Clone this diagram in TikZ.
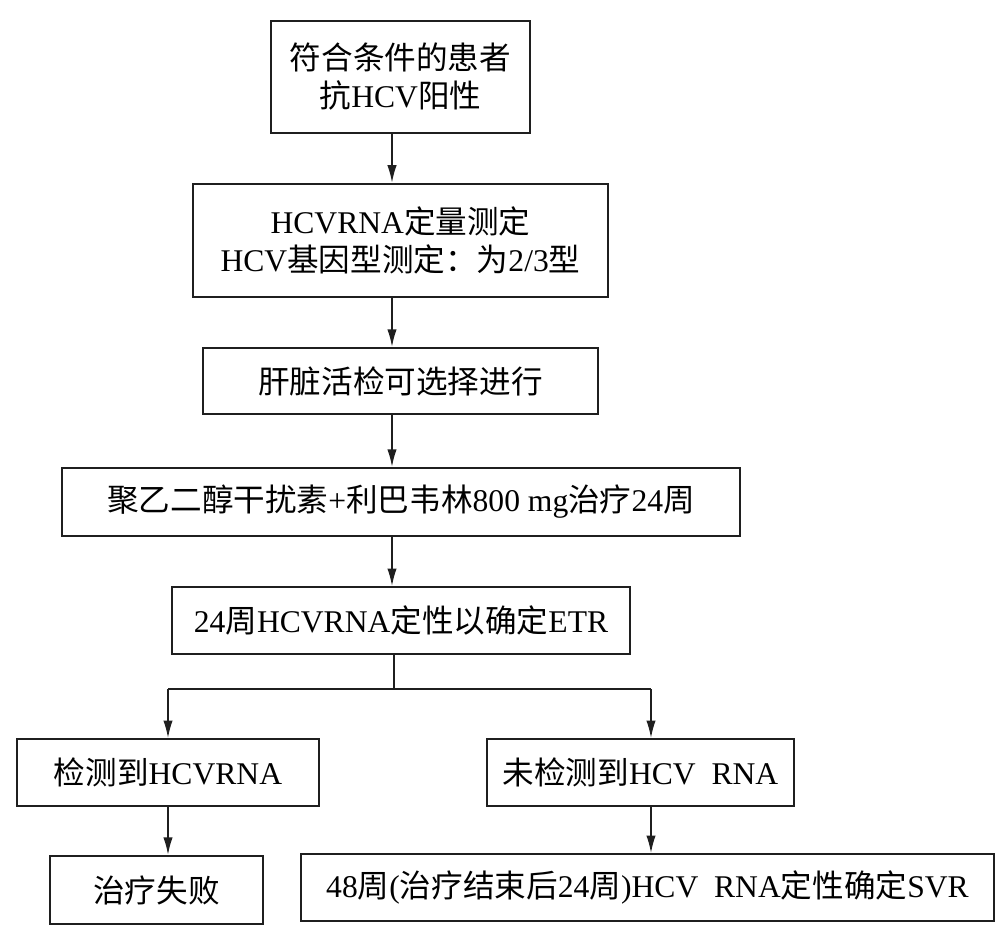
\documentclass[tikz,border=0pt]{standalone}
\usepackage{fontspec}
\setmainfont{Liberation Serif}
\newfontfamily\cjk{Noto Sans CJK SC}
\usetikzlibrary{arrows.meta}
\newcommand{\zh}[1]{{\cjk #1}}
\begin{document}
\begin{tikzpicture}[x=0.75pt,y=-0.75pt,
  box/.style={draw=black!88, line width=1.9pt, inner sep=0pt, align=center,
    font=\fontsize{23.7}{28.5}\selectfont},
  conn/.style={draw=black!88, line width=1pt},
  arr/.style={conn, -{Latex[length=13pt,width=7pt]}}]
\useasboundingbox (0,0) rectangle (1001,942);
\node[box, minimum width=194pt, minimum height=84pt] (b1) at (400.5,77)
  {\zh{符合条件的患者}\\\zh{抗}HCV\zh{阳性}};
\node[box, minimum width=311pt, minimum height=85pt] (b2) at (400.5,240.5)
  {HCVRNA\zh{定量测定}\\HCV\zh{基因型测定：为}2/3\zh{型}};
\node[box, minimum width=296pt, minimum height=49.5pt] (b3) at (400.5,381)
  {\zh{肝脏活检可选择进行}};
\node[box, minimum width=508.5pt, minimum height=51pt] (b4) at (401,502)
  {\zh{聚乙二醇干扰素}+\zh{利巴韦林}800 mg\zh{治疗}24\zh{周}};
\node[box, minimum width=343.5pt, minimum height=50pt] (b5) at (401,620.5)
  {24\zh{周}HCVRNA\zh{定性以确定}ETR};
\node[box, minimum width=226.5pt, minimum height=50pt] (l1) at (168,772.5)
  {\zh{检测到}HCVRNA};
\node[box, minimum width=230pt, minimum height=50pt] (r1) at (640.5,772.5)
  {\zh{未检测到}HCV\ \ RNA};
\node[box, minimum width=160pt, minimum height=51pt] (l2) at (156.5,890)
  {\zh{治疗失败}};
\node[box, minimum width=520pt, minimum height=50pt] (r2) at (647.5,887.5)
  {48\zh{周}(\zh{治疗结束后}24\zh{周})HCV\ \ RNA\zh{定性确定}SVR};
\coordinate (ax) at (392,0);
\coordinate (jn) at (394,689);
\coordinate (jl) at (168,689);
\coordinate (jr) at (651,689);
\draw[arr] (b1.south -| ax) -- (b2.north -| ax);
\draw[arr] (b2.south -| ax) -- (b3.north -| ax);
\draw[arr] (b3.south -| ax) -- (b4.north -| ax);
\draw[arr] (b4.south -| ax) -- (b5.north -| ax);
\draw[conn] (b5.south -| jn) -- (jn);
\draw[conn] (jl) -- (jr);
\draw[arr] (jl) -- (l1.north -| jl);
\draw[arr] (jr) -- (r1.north -| jr);
\draw[arr] (l1.south -| jl) -- (l2.north -| jl);
\draw[arr] (r1.south -| jr) -- (r2.north -| jr);
\end{tikzpicture}
\end{document}
